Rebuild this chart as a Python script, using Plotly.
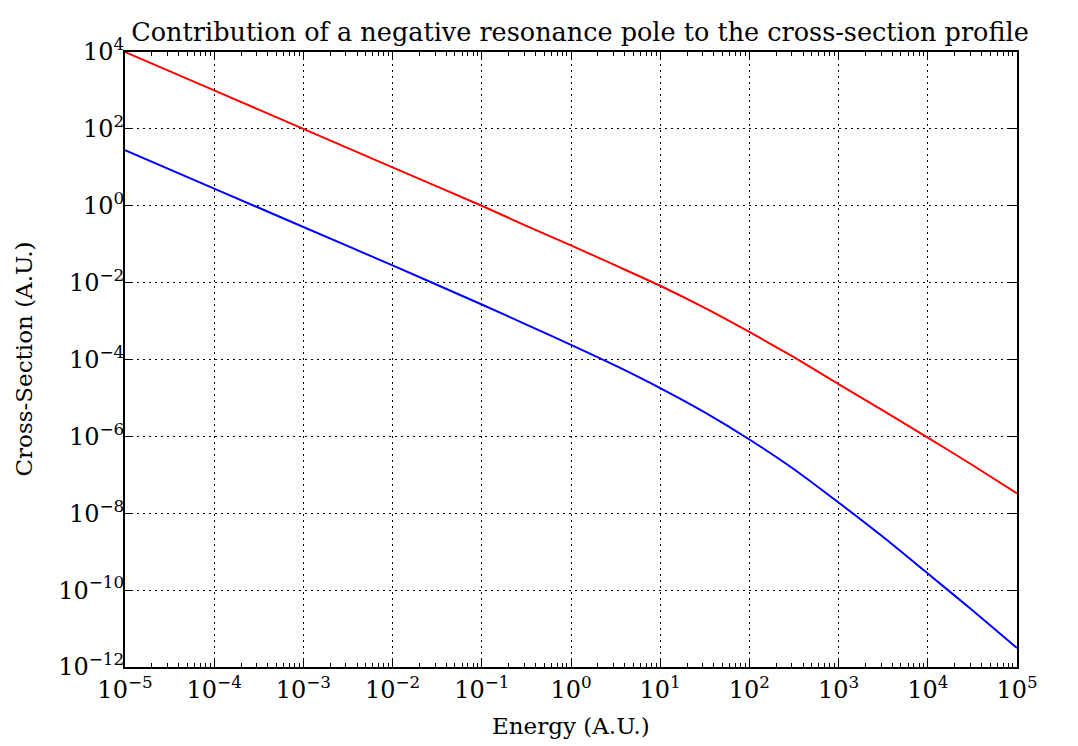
import plotly.graph_objects as go

# Energy sample points (A.U.)
energy = [1e-5, 1e-4, 1e-3, 1e-2, 1e-1, 0.316, 1.0, 3.16, 10.0, 31.6, 100.0,
          316.0, 1000.0, 3162.0, 1e4, 31623.0, 1e5]

# Red curve (upper)
red_sigma = [1.0e4, 1.0e3, 1.0e2, 1.0e1, 1.0, 0.30, 9.3e-2, 2.8e-2, 8.3e-3, 2.2e-3,
             5.2e-4, 1.15e-4, 2.3e-5, 4.7e-6, 9.3e-7, 1.8e-7, 3.3e-8]

# Blue curve (lower)
blue_sigma = [28.0, 2.8, 0.28, 2.8e-2, 2.7e-3, 8.1e-4, 2.4e-4, 6.9e-5, 1.8e-5, 4.2e-6,
              8.3e-7, 1.4e-7, 1.9e-8, 2.4e-9, 2.7e-10, 3.0e-11, 3.1e-12]

x_exps = [-5, -4, -3, -2, -1, 0, 1, 2, 3, 4, 5]
y_exps = [-12, -10, -8, -6, -4, -2, 0, 2, 4]


def sup_label(e):
    s = str(e).replace("-", "\u2212")
    return f"10<sup>{s}</sup>"


x_tickvals = [10.0 ** e for e in x_exps]
x_ticktext = [sup_label(e) for e in x_exps]
y_tickvals = [10.0 ** e for e in y_exps]
y_ticktext = [sup_label(e) for e in y_exps]
x_minor = [m * 10.0 ** e for e in x_exps[:-1] for m in range(2, 10)]

FONT = "DejaVu Serif"
W, H = 1078, 746
L, R, T, B = 125, 61, 52, 79

fig = go.Figure()
fig.add_trace(go.Scatter(x=energy, y=red_sigma, mode="lines",
                         line=dict(color="#ff0000", width=2, shape="spline", smoothing=0.6),
                         showlegend=False))
fig.add_trace(go.Scatter(x=energy, y=blue_sigma, mode="lines",
                         line=dict(color="#0000ff", width=2, shape="spline", smoothing=0.6),
                         showlegend=False))

axis_common = dict(
    showline=True, linecolor="black", linewidth=2, mirror="allticks",
    ticks="inside", ticklen=8, tickwidth=1, tickcolor="black",
    showgrid=True, gridcolor="black", gridwidth=1, griddash="2px,4px",
    zeroline=False, tickfont=dict(family=FONT, size=24, color="black"),
)

fig.update_xaxes(type="log", range=[-5, 5], tickmode="array",
                 tickvals=x_tickvals, ticktext=x_ticktext,
                 minor=dict(tickmode="array", tickvals=x_minor, ticks="inside",
                            ticklen=4, tickwidth=1, tickcolor="black", showgrid=False),
                 **axis_common)
fig.update_yaxes(type="log", range=[-12, 4], tickmode="array",
                 tickvals=y_tickvals, ticktext=y_ticktext,
                 ticklabelstandoff=-6,
                 **axis_common)

pw = W - L - R
ph = H - T - B

fig.update_layout(
    width=W, height=H,
    margin=dict(l=L, r=R, t=T, b=B),
    plot_bgcolor="white", paper_bgcolor="white",
    title=dict(text="Contribution of a negative resonance pole to the cross-section profile",
               x=(L + pw / 2 + 9) / W, xref="container", xanchor="center",
               y=1 - 32 / H, yanchor="middle",
               font=dict(family=FONT, size=25.5, color="black")),
    font=dict(family=FONT, color="black"),
    annotations=[
        dict(text="Energy (A.U.)", xref="paper", yref="paper",
             x=0.5, y=-(726 - (T + ph)) / ph, xanchor="center", yanchor="middle",
             showarrow=False, font=dict(family=FONT, size=23, color="black")),
        dict(text="Cross-Section (A.U.)", xref="paper", yref="paper",
             x=-(L - 23) / pw, y=0.5, xanchor="center", yanchor="middle",
             textangle=-90, showarrow=False,
             font=dict(family=FONT, size=23, color="black")),
    ],
)

fig.write_html("out.html")
